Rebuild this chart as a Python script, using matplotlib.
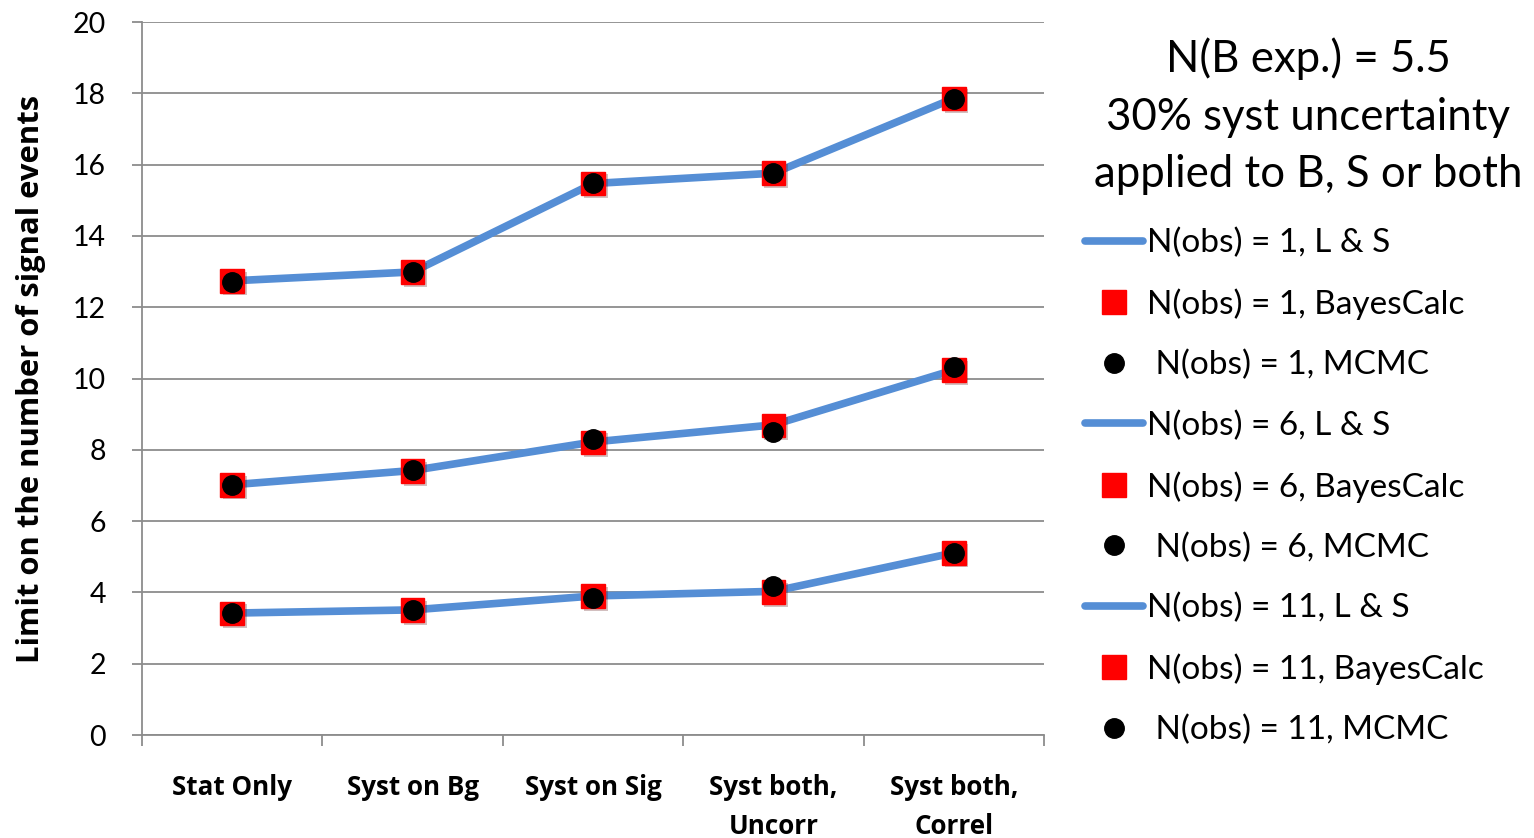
import matplotlib
matplotlib.use("Agg")
import matplotlib.pyplot as plt
import matplotlib.patheffects as pe
import numpy as np

categories = ["Stat Only", "Syst on Bg", "Syst on Sig",
              "Syst both,\nUncorr", "Syst both,\nCorrel"]

# upper limits for N(obs) = 1, 6, 11 : L & S, BayesCalc, MCMC
ls_1 = [12.74, 12.99, 15.47, 15.76, 17.86]
bayes_1 = [12.74, 12.99, 15.47, 15.76, 17.86]
mcmc_1 = [12.72, 13.00, 15.49, 15.76, 17.85]

ls_6 = [7.02, 7.42, 8.22, 8.70, 10.24]
bayes_6 = [7.02, 7.40, 8.21, 8.68, 10.24]
mcmc_6 = [7.02, 7.44, 8.30, 8.49, 10.32]

ls_11 = [3.42, 3.51, 3.90, 4.03, 5.11]
bayes_11 = [3.41, 3.50, 3.90, 4.01, 5.11]
mcmc_11 = [3.41, 3.50, 3.83, 4.17, 5.10]

n_obs = ["1", "6", "11"]

BLUE = "#558ED5"
GRID = "#8C8C8C"
TEXT_FONT = "Lato"
BOLD_FONT = "Open Sans"

fig = plt.figure(figsize=(15.34, 8.38), dpi=100)
ax = fig.add_axes([0.0926, 0.1229, 0.588, 0.8508])

x = np.arange(len(categories)) + 0.5
shadow = [pe.SimplePatchShadow(offset=(2, -2), alpha=0.25), pe.Normal()]

series = [(ls_1, bayes_1, mcmc_1), (ls_6, bayes_6, mcmc_6),
          (ls_11, bayes_11, mcmc_11)]
handles = []
for n, (ls, bayes, mcmc) in zip(n_obs, series):
    h_line, = ax.plot(x, ls, color=BLUE, lw=5.5, solid_capstyle="round",
                      solid_joinstyle="round", zorder=3,
                      label="N(obs) = %s, L & S" % n)
    h_sq, = ax.plot(x, bayes, ls="none", marker="s", ms=17, mfc="#FF0000",
                    mec="#FF0000", zorder=4, path_effects=shadow,
                    label="N(obs) = %s, BayesCalc" % n)
    h_dot, = ax.plot(x, mcmc, ls="none", marker="o", ms=14, mfc="black",
                     mec="black", zorder=5,
                     label=" N(obs) = %s, MCMC" % n)
    handles += [h_line, h_sq, h_dot]

ax.set_xlim(0, len(categories))
ax.set_ylim(0, 20)
ax.set_yticks(np.arange(0, 21, 2))
ax.set_xticks(np.arange(len(categories) + 1))
ax.set_xticks(x, minor=True)
ax.set_xticklabels([])
ax.set_xticklabels(categories, minor=True, fontfamily=BOLD_FONT,
                   fontweight="bold", fontsize=18.7, linespacing=1.6)
ax.tick_params(axis="x", which="minor", length=0, pad=28)
ax.tick_params(axis="x", which="major", length=8, color=GRID, width=1.3)
ax.tick_params(axis="y", length=7, color=GRID, width=1.3, pad=19,
               labelsize=20.5)
for lab in ax.get_yticklabels():
    lab.set_fontfamily(TEXT_FONT)

ax.grid(axis="y", color=GRID, lw=1.3)
ax.set_axisbelow(True)
for side in ["top", "right"]:
    ax.spines[side].set_visible(False)
for side in ["left", "bottom"]:
    ax.spines[side].set_color(GRID)
    ax.spines[side].set_linewidth(1.3)

ax.set_ylabel("Limit on the number of signal events", fontfamily=BOLD_FONT,
              fontweight="bold", fontsize=22.3, labelpad=19)

fig.text(0.8527, 0.955, "N(B exp.) = 5.5\n30% syst uncertainty\napplied to B, S or both",
         ha="center", va="top", fontsize=31.5, fontfamily=TEXT_FONT,
         linespacing=1.5)

leg = fig.legend(handles=handles, loc="upper left",
                 bbox_to_anchor=(0.7073, 0.728), frameon=False,
                 prop={"family": TEXT_FONT, "size": 24},
                 handlelength=1.75, handletextpad=0.1, labelspacing=0.9,
                 borderaxespad=0, borderpad=0)
for h in leg.legend_handles:
    h.set_path_effects([])

fig.savefig("out.png", dpi=100)
